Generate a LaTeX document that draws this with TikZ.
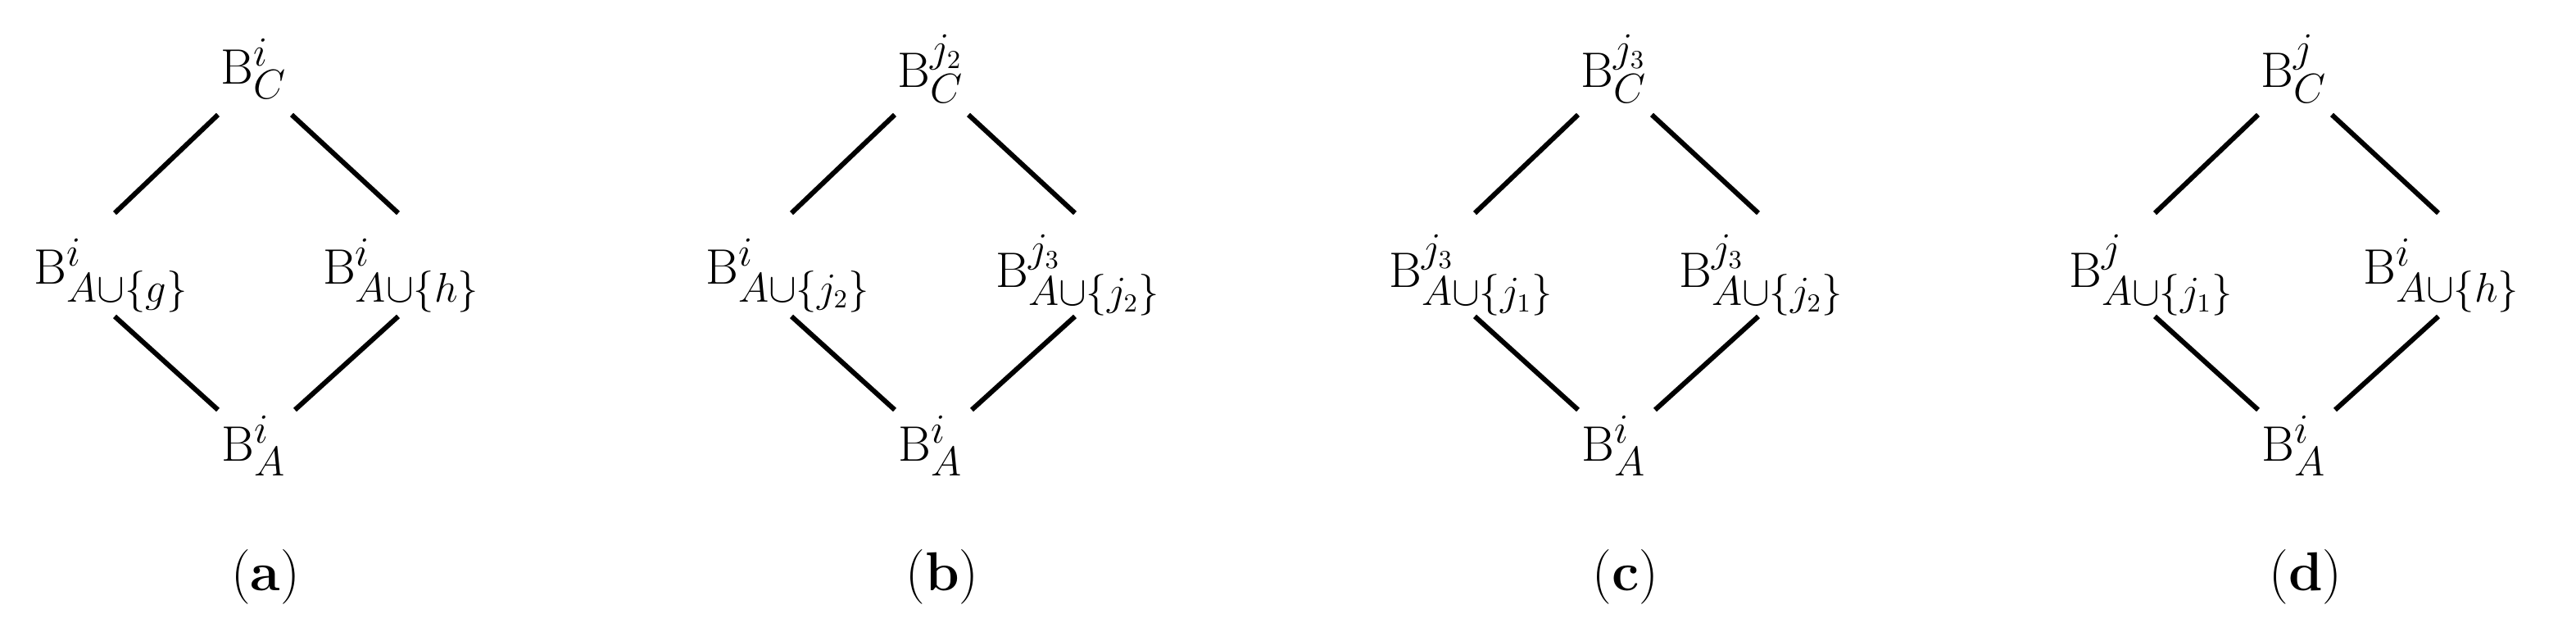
\documentclass[tikz,border=0pt]{standalone}
\begin{document}
\begin{tikzpicture}[x=0.02cm,y=-0.02cm,
  lbl/.style={font=\fontsize{19}{23}\selectfont,inner sep=0pt},
  edge/.style={line width=1.7pt}]
\useasboundingbox (0,0) rectangle (1572,385.5);
\foreach \ox/\t/\l/\r/\b/\cap in {
  0/{\mathrm{B}^{i}_{C}}/{\mathrm{B}^{i}_{A\cup\{g\}}}/{\mathrm{B}^{i}_{A\cup\{h\}}}/{\mathrm{B}^{i}_{A}}/a,
  413/{\mathrm{B}^{j_2}_{C}}/{\mathrm{B}^{i}_{A\cup\{j_2\}}}/{\mathrm{B}^{j_3}_{A\cup\{j_2\}}}/{\mathrm{B}^{i}_{A}}/b,
  830/{\mathrm{B}^{j_3}_{C}}/{\mathrm{B}^{j_3}_{A\cup\{j_1\}}}/{\mathrm{B}^{j_3}_{A\cup\{j_2\}}}/{\mathrm{B}^{i}_{A}}/c,
  1245/{\mathrm{B}^{j}_{C}}/{\mathrm{B}^{j}_{A\cup\{j_1\}}}/{\mathrm{B}^{i}_{A\cup\{h\}}}/{\mathrm{B}^{i}_{A}}/d}{
  \begin{scope}[xshift=\ox*0.02cm]
  \node[lbl] (t\cap) at (155,42) {$\t$};
  \node[lbl] (l\cap) at (68,168) {$\l$};
  \node[lbl] (r\cap) at (245,168) {$\r$};
  \node[lbl] (b\cap) at (155,272) {$\b$};
  \node[lbl] (c\cap) at (162,352) {(\textbf{\cap})};
  \coordinate (tl\cap) at (133,70); \coordinate (lt\cap) at (70,130);
  \coordinate (tr\cap) at (178,70); \coordinate (rt\cap) at (243,130);
  \coordinate (bl\cap) at (133,250); \coordinate (lb\cap) at (70,193);
  \coordinate (br\cap) at (180,250); \coordinate (rb\cap) at (243,193);
  \draw[edge] (tl\cap) -- (lt\cap);
  \draw[edge] (tr\cap) -- (rt\cap);
  \draw[edge] (bl\cap) -- (lb\cap);
  \draw[edge] (br\cap) -- (rb\cap);
  \end{scope}}
\end{tikzpicture}
\end{document}
